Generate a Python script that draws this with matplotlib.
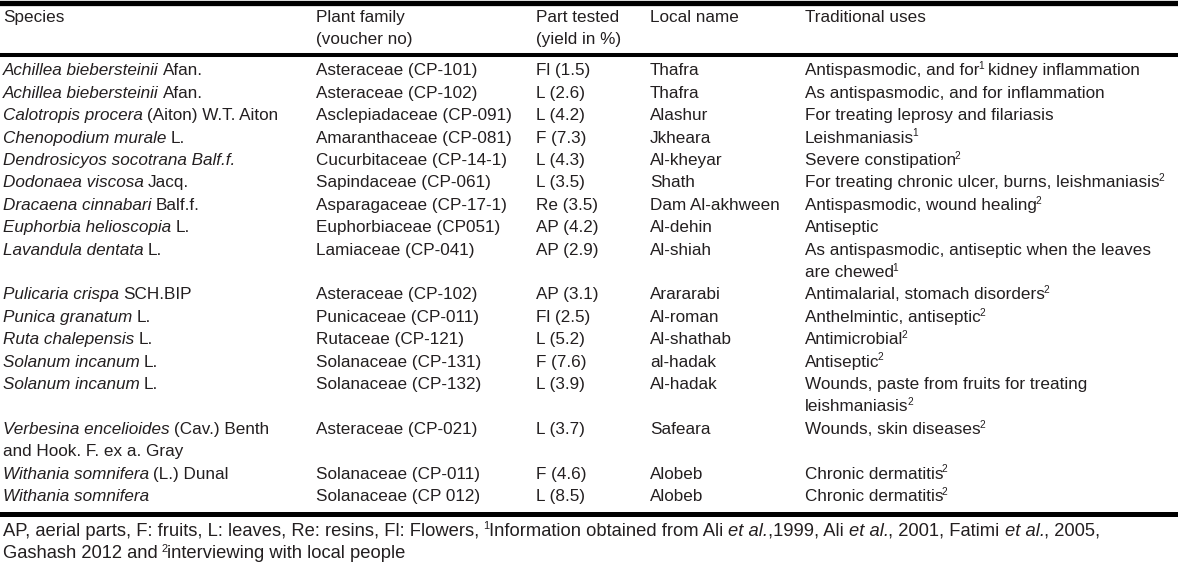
import re
import matplotlib
matplotlib.use("Agg")
import matplotlib.pyplot as plt
from matplotlib import font_manager

# ── table content ────────────────────────────────────────────────────────────
# _text_ = italic, ^1 = superscript
headers = ["Species", "Plant family\n(voucher no)", "Part tested\n(yield in %)",
           "Local name", "Traditional uses"]

species = [
    "_Achillea biebersteinii_ Afan.",
    "_Achillea biebersteinii_ Afan.",
    "_Calotropis procera_ (Aiton) W.T. Aiton",
    "_Chenopodium murale_ L.",
    "_Dendrosicyos socotrana Balf.f._",
    "_Dodonaea viscosa_ Jacq.",
    "_Dracaena cinnabari_ Balf.f.",
    "_Euphorbia helioscopia_ L.",
    "_Lavandula dentata_ L.",
    "_Pulicaria crispa_ SCH.BIP",
    "_Punica granatum_ L.",
    "_Ruta chalepensis_ L.",
    "_Solanum incanum_ L.",
    "_Solanum incanum_ L.",
    "_Verbesina encelioides_ (Cav.) Benth\nand Hook. F. ex a. Gray",
    "_Withania somnifera_ (L.) Dunal",
    "_Withania somnifera_",
]
families = [
    "Asteraceae (CP-101)", "Asteraceae (CP-102)", "Asclepiadaceae (CP-091)",
    "Amaranthaceae (CP-081)", "Cucurbitaceae (CP-14-1)", "Sapindaceae (CP-061)",
    "Asparagaceae (CP-17-1)", "Euphorbiaceae (CP051)", "Lamiaceae (CP-041)",
    "Asteraceae (CP-102)", "Punicaceae (CP-011)", "Rutaceae (CP-121)",
    "Solanaceae (CP-131)", "Solanaceae (CP-132)", "Asteraceae (CP-021)",
    "Solanaceae (CP-011)", "Solanaceae (CP 012)",
]
parts = ["Fl (1.5)", "L (2.6)", "L (4.2)", "F (7.3)", "L (4.3)", "L (3.5)",
         "Re (3.5)", "AP (4.2)", "AP (2.9)", "AP (3.1)", "Fl (2.5)", "L (5.2)",
         "F (7.6)", "L (3.9)", "L (3.7)", "F (4.6)", "L (8.5)"]
local_names = ["Thafra", "Thafra", "Alashur", "Jkheara", "Al-kheyar", "Shath",
               "Dam Al-akhween", "Al-dehin", "Al-shiah", "Arararabi", "Al-roman",
               "Al-shathab", "al-hadak", "Al-hadak", "Safeara", "Alobeb", "Alobeb"]
uses = [
    "Antispasmodic, and for^1 kidney inflammation",
    "As antispasmodic, and for inflammation",
    "For treating leprosy and filariasis",
    "Leishmaniasis^1",
    "Severe constipation^2",
    "For treating chronic ulcer, burns, leishmaniasis^2",
    "Antispasmodic, wound healing^2",
    "Antiseptic",
    "As antispasmodic, antiseptic when the leaves\nare chewed^1",
    "Antimalarial, stomach disorders^2",
    "Anthelmintic, antiseptic^2",
    "Antimicrobial^2",
    "Antiseptic^2",
    "Wounds, paste from fruits for treating\nleishmaniasis^2",
    "Wounds, skin diseases^2",
    "Chronic dermatitis^2",
    "Chronic dermatitis^2",
]
footnote = ("AP, aerial parts, F: fruits, L: leaves, Re: resins, Fl: Flowers, "
            "^1Information obtained from Ali _et al._,1999, Ali _et al._, 2001, "
            "Fatimi _et al._, 2005,\nGashash 2012 and ^2interviewing with local people")

# ── layout (pixels) ──────────────────────────────────────────────────────────
W, H = 1178, 565
col_x = [3, 316, 536, 650, 805]
first_line = 71
line_h = 22.4
FS = 12.3
FS_NOTE = 13.2
INK = "#231f20"


def pick_font(names):
    for n in names:
        try:
            font_manager.findfont(n, fallback_to_default=False)
            return n
        except ValueError:
            pass
    return "DejaVu Sans"


FAMILY = [pick_font(["Liberation Sans", "Roboto", "Arial"]), "DejaVu Sans"]

fig = plt.figure(figsize=(W / 100, H / 100), dpi=100)
ax = fig.add_axes([0, 0, 1, 1])
ax.set_xlim(0, W)
ax.set_ylim(H, 0)
ax.axis("off")
renderer = fig.canvas.get_renderer()


def width(txt, size, style):
    t = ax.text(0, 0, txt, fontsize=size, fontstyle=style, family=FAMILY)
    w = t.get_window_extent(renderer).width
    t.remove()
    return w


space_w = {}


def spw(size, style):
    key = (size, style)
    if key not in space_w:
        space_w[key] = width("x x", size, style) - width("xx", size, style)
    return space_w[key]


def draw_line(x, y, s, size=FS):
    """draw one line of marked-up text, y = centre of the line"""
    base = y + size * 0.36
    for tok in re.split(r"(_[^_]+_|\^\d)", s):
        if not tok:
            continue
        style, sz, dy, dx = "normal", size, 0, 0
        if tok.startswith("_"):
            tok, style = tok[1:-1], "italic"
        elif tok.startswith("^"):
            tok, sz, dy, dx = tok[1:], size * 0.6, -size * 0.5, -1.5
        x += dx
        core = tok.strip(" ")
        lead = len(tok) - len(tok.lstrip(" "))
        trail = len(tok) - len(tok.rstrip(" "))
        x += lead * spw(sz, style)
        if core:
            ax.text(x, base + dy, core, fontsize=sz, fontstyle=style,
                    family=FAMILY, color=INK, va="baseline", ha="left")
            x += width(core, sz, style) - (0.5 if style == "italic" else 0)
        x += trail * spw(sz, style)


def draw_cell(x, y, s, step=line_h, size=FS):
    for i, part in enumerate(s.split("\n")):
        draw_line(x, y + i * step, part, size)


# rules
ax.axhline(2.5, color="black", lw=3.8)
ax.axhline(55, color="black", lw=2.9)
ax.axhline(513.5, color="black", lw=3.6)

# header
for cx, h in zip(col_x, headers):
    draw_cell(cx, 18, h, step=22)

# body
line = 0
for row in zip(species, families, parts, local_names, uses):
    y = first_line + line * line_h
    for cx, cell in zip(col_x, row):
        draw_cell(cx, y, cell)
    line += max(c.count("\n") + 1 for c in row)

# footnote
draw_cell(3, 531, footnote, step=22.5, size=FS_NOTE)

fig.savefig("out.png", dpi=100)
